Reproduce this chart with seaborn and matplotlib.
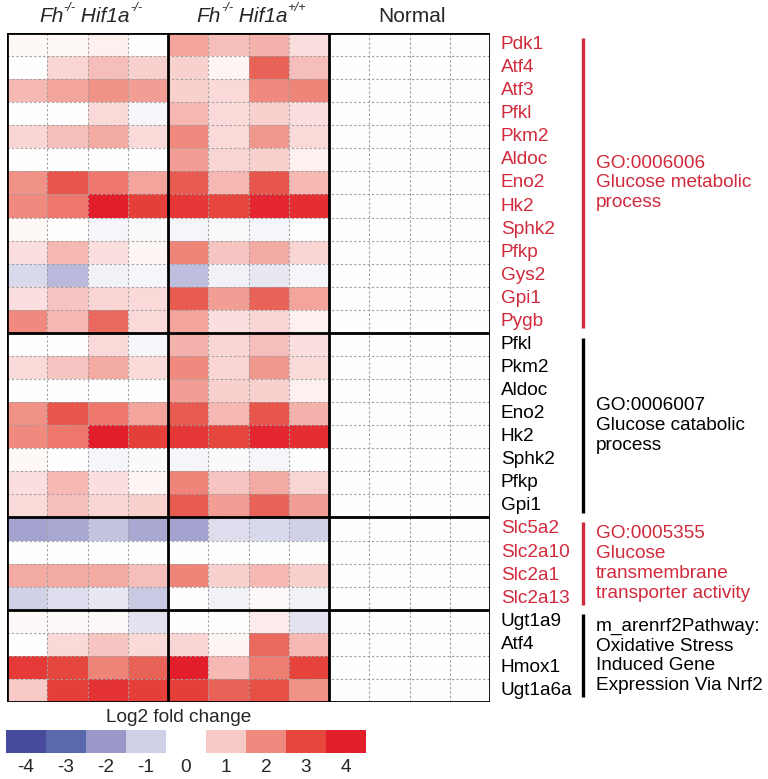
import numpy as np
import pandas as pd
import seaborn as sns
import matplotlib.pyplot as plt
from matplotlib.colors import LinearSegmentedColormap

sns.set_style('white')
plt.rcParams['font.family'] = ['Liberation Sans', 'DejaVu Sans']

genes = ['Pdk1', 'Atf4', 'Atf3', 'Pfkl', 'Pkm2', 'Aldoc', 'Eno2', 'Hk2', 'Sphk2', 'Pfkp', 'Gys2', 'Gpi1', 'Pygb',
         'Pfkl', 'Pkm2', 'Aldoc', 'Eno2', 'Hk2', 'Sphk2', 'Pfkp', 'Gpi1',
         'Slc5a2', 'Slc2a10', 'Slc2a1', 'Slc2a13',
         'Ugt1a9', 'Atf4', 'Hmox1', 'Ugt1a6a']
section_sizes = [13, 8, 4, 4]
section_labels = ['GO:0006006\nGlucose metabolic\nprocess',
                  'GO:0006007\nGlucose catabolic\nprocess',
                  'GO:0005355\nGlucose\ntransmembrane\ntransporter activity',
                  'm_arenrf2Pathway:\nOxidative Stress\nInduced Gene\nExpression Via Nrf2']
section_red = [True, False, True, False]
# header pieces: (text, italic, superscript)
groups = [[('Fh', True, False), ('-/-', True, True), (' Hif1a', True, False), ('-/-', True, True)],
          [('Fh', True, False), ('-/-', True, True), (' Hif1a', True, False), ('+/+', True, True)],
          [('Normal', False, False)]]

# log2 fold change, Fh-/- Hif1a-/- (4 samples)
ko = [[0.15, 0.15, 0.3, 0.0],
      [0.0, 0.8, 1.2, 0.9],
      [1.3, 1.6, 1.9, 1.7],
      [0.0, 0.0, 0.7, -0.2],
      [0.8, 1.2, 1.5, 0.7],
      [0.0, 0.0, 0.0, 0.0],
      [1.9, 2.8, 2.3, 1.6],
      [2.0, 2.3, 4.0, 3.2],
      [0.15, 0.0, -0.2, -0.1],
      [0.6, 1.3, 0.6, 0.2],
      [-0.8, -1.4, -0.3, -0.2],
      [0.6, 1.1, 0.8, 0.7],
      [2.0, 1.3, 2.5, 0.7],
      [0.0, 0.0, 0.7, -0.2],
      [0.7, 1.1, 1.5, 0.7],
      [0.0, 0.0, 0.0, 0.0],
      [1.9, 2.8, 2.3, 1.6],
      [2.0, 2.3, 4.0, 3.2],
      [0.15, 0.0, -0.2, -0.1],
      [0.6, 1.3, 0.6, 0.2],
      [0.7, 1.2, 0.8, 0.9],
      [-1.8, -1.7, -1.2, -1.7],
      [0.0, 0.0, 0.0, 0.0],
      [1.5, 1.5, 1.5, 1.2],
      [-1.0, -0.7, -0.5, -1.1],
      [0.1, 0.1, 0.1, -0.6],
      [0.0, 0.7, 1.1, 0.7],
      [3.3, 3.0, 2.1, 2.6],
      [1.0, 3.2, 3.5, 3.2]]

# log2 fold change, Fh-/- Hif1a+/+ (4 samples)
wt = [[1.6, 1.2, 1.4, 0.6],
      [0.9, 0.2, 2.6, 1.2],
      [0.9, 0.7, 2.0, 2.1],
      [1.3, 0.7, 0.9, 0.6],
      [2.0, 0.7, 1.8, 0.7],
      [1.7, 0.8, 0.9, 0.3],
      [2.7, 1.3, 2.8, 1.3],
      [3.4, 3.0, 3.8, 3.6],
      [-0.2, -0.1, -0.2, 0.0],
      [2.1, 1.1, 1.5, 0.8],
      [-1.3, -0.3, -0.5, -0.2],
      [2.7, 1.7, 2.6, 1.6],
      [1.6, 0.6, 0.8, 0.3],
      [1.4, 0.8, 1.2, 0.6],
      [2.0, 0.8, 1.8, 0.7],
      [1.7, 0.9, 0.9, 0.3],
      [2.7, 1.3, 2.8, 1.4],
      [3.4, 3.0, 3.8, 3.6],
      [-0.2, -0.1, -0.2, 0.0],
      [2.1, 1.1, 1.5, 0.8],
      [2.7, 1.7, 2.6, 1.7],
      [-1.8, -0.7, -0.8, -1.0],
      [0.0, 0.0, 0.0, 0.0],
      [2.1, 0.9, 1.3, 0.9],
      [0.0, -0.3, 0.1, -0.3],
      [0.0, 0.0, 0.4, -0.6],
      [0.8, 0.2, 2.5, 1.3],
      [4.0, 1.3, 2.2, 3.1],
      [3.2, 2.6, 2.9, 1.9]]

# Normal reference samples
normal = [[0.0, 0.0, 0.0, 0.0] for g in genes]

legend_vals = [-4, -3, -2, -1, np.nan, 1, 2, 3, 4]
legend_ticks = ['-4', '-3', '-2', '-1', '0', '1', '2', '3', '4']

red = '#d12a3c'
fs = 13.7
cmap = LinearSegmentedColormap.from_list('lfc', [
    (0.0, '#474b9c'), (0.125, '#5a69ae'), (0.25, '#9a98c9'), (0.375, '#cfcfe7'),
    (0.5, '#ffffff'), (0.625, '#f7cbc9'), (0.75, '#f08c80'), (0.875, '#e5483e'), (1.0, '#e31e2b')])

mat = np.hstack([np.array(ko), np.array(wt), np.array(normal)])
df = pd.DataFrame(mat, index=range(len(genes)))
nrow, ncol = mat.shape

W, H = 768, 779
fig = plt.figure(figsize=(W / 100, H / 100), dpi=100)

def box(x0, y0, x1, y1):
    return [x0 / W, 1 - y1 / H, (x1 - x0) / W, (y1 - y0) / H]

def rich_text(xc, y, parts, size):
    # place italic / superscript pieces side by side, centred at pixel xc
    r = fig.canvas.get_renderer()
    objs = []
    for txt, it, sup in parts:
        s = size * 0.62 if sup else size
        t = fig.text(0, 1 - (y - (size * 0.6 if sup else 0)) / H, txt, fontsize=s,
                     fontstyle='italic' if it else 'normal', va='center', ha='left')
        objs.append(t)
    widths = [t.get_window_extent(r).width for t in objs]
    x = xc - sum(widths) / 2
    for t, w in zip(objs, widths):
        t.set_x(x / W)
        x += w

hm_top, hm_bot = 33, 702
ax = fig.add_axes(box(7, hm_top, 490, hm_bot))
sns.heatmap(df, ax=ax, cmap=cmap, vmin=-4, vmax=4, cbar=False, xticklabels=False, yticklabels=False)

for i in range(1, nrow):
    ax.axhline(i, color='#a0a0a0', lw=0.8, ls=(0, (2, 2)))
for j in range(1, ncol):
    ax.axvline(j, color='#a0a0a0', lw=0.8, ls=(0, (2, 2)))
bounds = np.cumsum([0] + section_sizes)
for b in bounds:
    ax.axhline(b, color='black', lw=2)
for j in [0, 4, 8, 12]:
    ax.axvline(j, color='black', lw=2)
ax.set_xlim(0, ncol)
ax.set_ylim(nrow, 0)
for j, g in enumerate(groups):
    rich_text(7 + (j * 4 + 2) * (483 / 12) + 3, 17, g, 15)

# side annotations
side = fig.add_axes(box(490, hm_top, 768, hm_bot))
side.set_xlim(490, 768)
side.set_ylim(nrow, 0)
side.axis('off')
for s in range(len(section_sizes)):
    c = red if section_red[s] else 'black'
    for r in range(bounds[s], bounds[s + 1]):
        side.text(501, r + 0.5, genes[r], ha='left', va='center', fontsize=fs, color=c)
    side.plot([583, 583], [bounds[s] + 0.2, bounds[s + 1] - 0.2], color=c, lw=2.4, solid_capstyle='butt')
    side.text(596, (bounds[s] + bounds[s + 1]) / 2, section_labels[s], ha='left', va='center',
              fontsize=fs, color=c, linespacing=1.22)

# legend
lg = fig.add_axes(box(6, 730, 366, 753))
sns.heatmap(pd.DataFrame([legend_vals]), ax=lg, cmap=cmap, vmin=-4, vmax=4, cbar=False,
            xticklabels=False, yticklabels=False)
lg.set_xticks(np.arange(len(legend_ticks)) + 0.5)
lg.set_xticklabels(legend_ticks, fontsize=fs)
lg.tick_params(axis='x', length=0, pad=4)
for sp in lg.spines.values():
    sp.set_visible(False)
fig.text(179 / W, 1 - 717 / H, 'Log2 fold change', fontsize=fs, ha='center', va='center')

fig.savefig('out.png', dpi=100)
